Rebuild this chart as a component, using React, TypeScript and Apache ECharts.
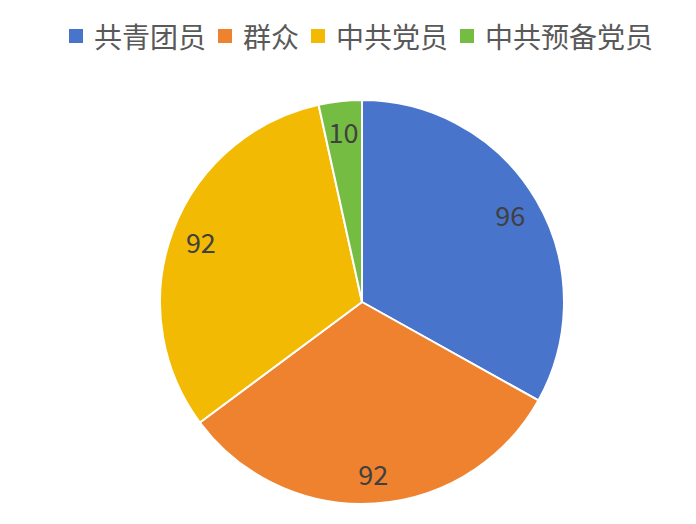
import { useEffect, useRef } from 'react'
import * as echarts from 'echarts'

const categories = ['共青团员', '群众', '中共党员', '中共预备党员']
const counts = [96, 92, 92, 10]
const colors = ['#4874CB', '#EE822F', '#F2BA02', '#75BD42']

const FONT = '"Noto Sans CJK SC", "Noto Sans", sans-serif'

export default function App() {
  const chartRef = useRef<HTMLDivElement | null>(null)

  useEffect(() => {
    document.body.style.margin = '0'
    if (!chartRef.current) {
      return
    }

    const chart = echarts.init(chartRef.current, null, { renderer: 'svg' })
    const data = categories.map((name, i) => ({ name, value: counts[i] }))

    chart.setOption({
      animation: false,
      color: colors,
      textStyle: { fontFamily: FONT },
      legend: {
        top: 20,
        left: 67,
        padding: 0,
        icon: 'rect',
        itemWidth: 16,
        itemHeight: 16,
        itemGap: 10,
        data: categories,
        textStyle: {
          fontFamily: FONT,
          fontSize: 28,
          lineHeight: 32,
          color: '#595959',
          padding: [0, 0, 0, 5],
        },
      },
      series: [
        {
          type: 'pie',
          center: [362, 302],
          radius: [0, 202],
          startAngle: 90,
          clockwise: true,
          silent: true,
          itemStyle: { borderColor: '#ffffff', borderWidth: 2 },
          label: { show: false },
          labelLine: { show: false },
          data,
        },
        {
          // ring only for placing value labels further out than the slice middle
          type: 'pie',
          center: [362, 302],
          radius: [136, 202],
          startAngle: 90,
          clockwise: true,
          silent: true,
          itemStyle: { color: 'transparent', borderWidth: 0 },
          label: {
            show: true,
            position: 'inside',
            formatter: '{c}',
            fontFamily: FONT,
            fontSize: 27,
            color: '#404040',
          },
          labelLine: { show: false },
          data,
        },
      ],
    })

    return () => {
      chart.dispose()
    }
  }, [])

  return <div ref={chartRef} style={{ width: 696, height: 524 }} />
}
